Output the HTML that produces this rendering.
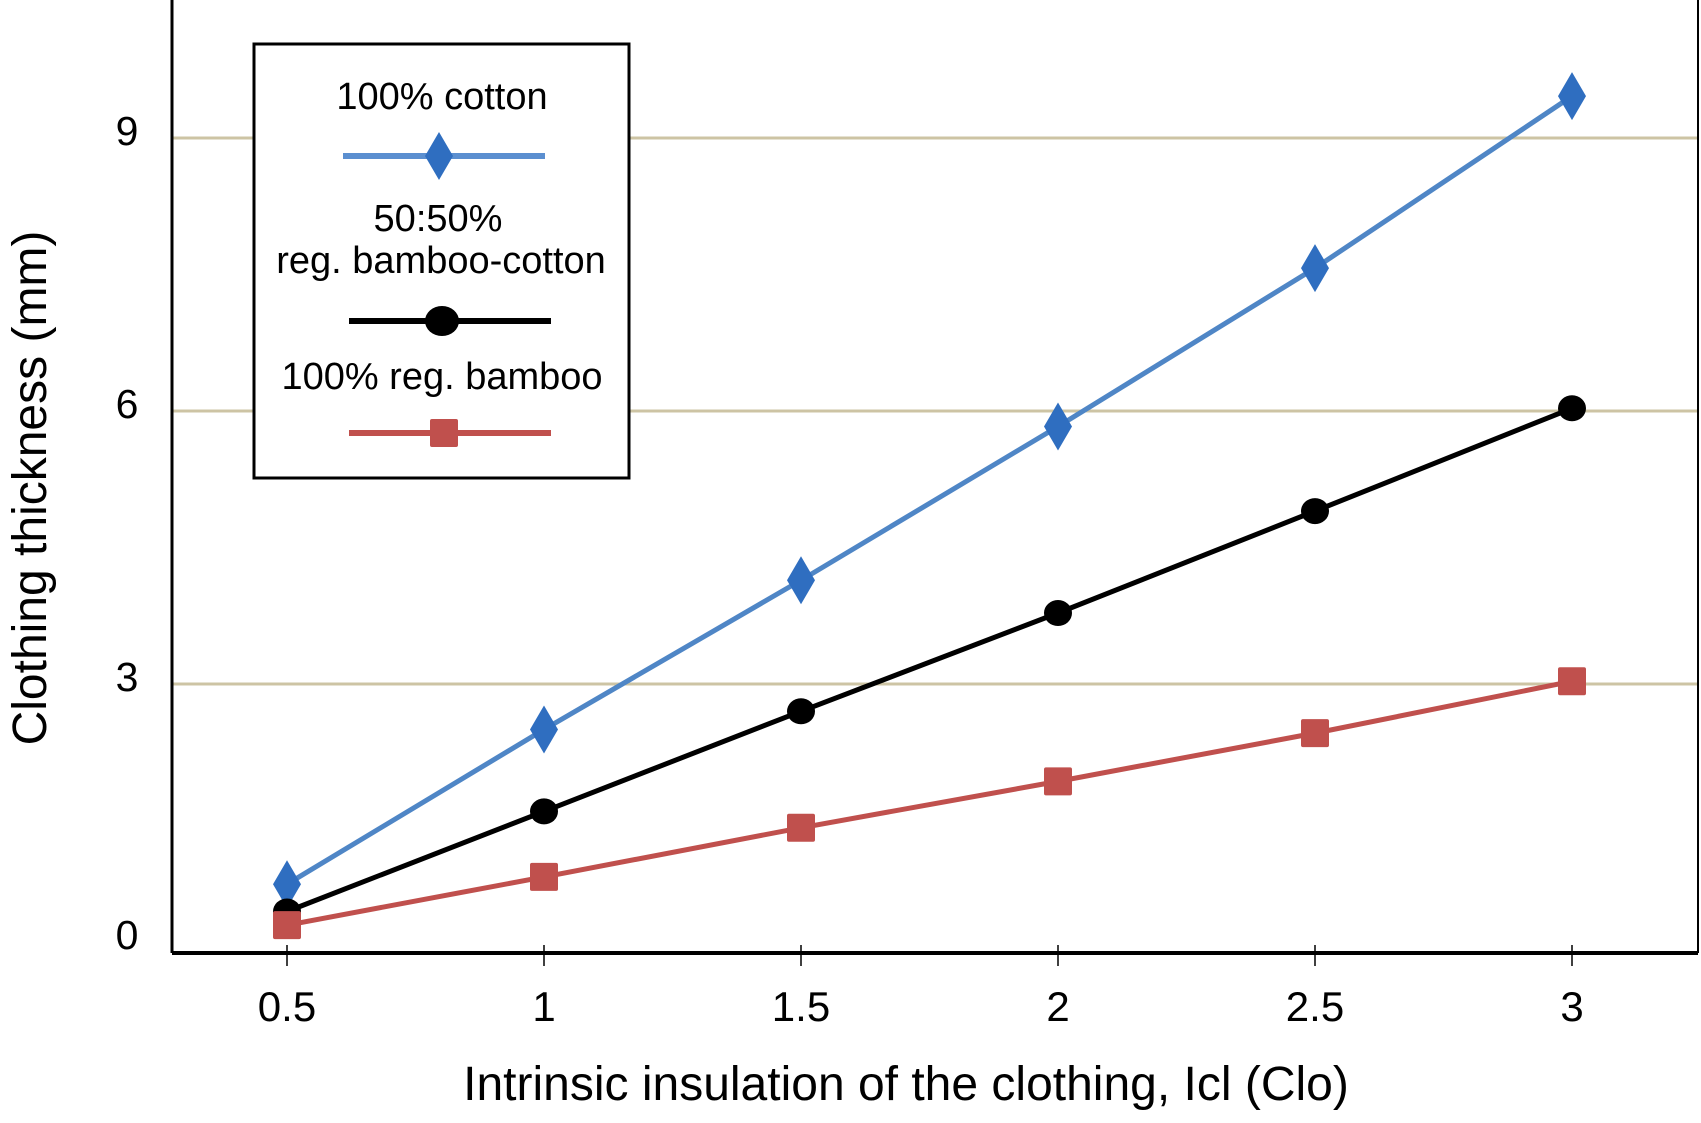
<!DOCTYPE html>
<html><head><meta charset="utf-8"><style>
html,body{margin:0;padding:0;background:#fff;}
svg{display:block;font-family:"Liberation Sans",sans-serif;}
</style></head><body>
<svg id="chart" width="1701" height="1123" viewBox="0 0 1701 1123">
<g id="grid"></g>
<g id="series"></g>
<g id="axes">
<line x1="172" y1="0" x2="172" y2="953" stroke="#000" stroke-width="3"/>
<line x1="172" y1="953" x2="1698" y2="953" stroke="#000" stroke-width="4"/>
<line x1="1698" y1="0" x2="1698" y2="953" stroke="#000" stroke-width="2"/>
</g>
<g id="xticks"></g>
<g id="yticks"></g>
<text x="906" y="1100" font-size="48" text-anchor="middle" fill="#000">Intrinsic insulation of the clothing, Icl (Clo)</text>
<text transform="translate(46,488) rotate(-90)" font-size="48" text-anchor="middle" fill="#000">Clothing thickness (mm)</text>
<g>
<rect x="254" y="44" width="375" height="434" fill="#fff" stroke="#000" stroke-width="3"/>
<g>
<text x="442" y="109" font-size="38" text-anchor="middle">100% cotton</text>
<line x1="343" y1="156" x2="545" y2="156" stroke="#5b8fd0" stroke-width="6"/>
<path d="M439 132 L453 156 L439 180 L425 156 Z" fill="#2f6ec0"/>
</g>
<g>
<text x="438" y="231" font-size="38" text-anchor="middle">50:50%</text>
<text x="441" y="273" font-size="38" text-anchor="middle">reg. bamboo-cotton</text>
<line x1="349" y1="321" x2="551" y2="321" stroke="#000" stroke-width="6"/>
<ellipse cx="442" cy="321" rx="17" ry="15" fill="#000"/>
</g>
<g>
<text x="442" y="389" font-size="38" text-anchor="middle">100% reg. bamboo</text>
<line x1="349" y1="433" x2="551" y2="433" stroke="#c0504d" stroke-width="6"/>
<rect x="430" y="419" width="28" height="28" rx="2" fill="#c0504d"/>
</g>
</g>
</svg>
<script>
const categories = [0.5, 1, 1.5, 2, 2.5, 3];
const cottonValues = [0.8, 2.5, 4.14, 5.83, 7.57, 9.46];
const blendValues = [0.5, 1.6, 2.7, 3.78, 4.9, 6.03];
const bambooValues = [0.35, 0.88, 1.42, 1.93, 2.46, 3.03];
const yTicks = [0, 3, 6, 9];
const xTickLabels = ["0.5", "1", "1.5", "2", "2.5", "3"];

const NS = "http://www.w3.org/2000/svg";
function xPos(v){ return 287 + (v - 0.5) * 514; }
function yPos(v){ return 957 - 91 * v; }
function mk(tag, attrs, parent){
  const e = document.createElementNS(NS, tag);
  for (const k in attrs) e.setAttribute(k, attrs[k]);
  parent.appendChild(e);
  return e;
}
const grid = document.getElementById('grid');
const yt = document.getElementById('yticks');
yTicks.forEach(v => {
  if (v > 0) {
    const g = mk('line', {x1:172, x2:1698, y1:yPos(v), y2:yPos(v), stroke:'#cdc4a4', 'stroke-width':3}, grid);
    
    
  }
  const t = mk('text', {x:127, y: (v === 0 ? 934 : yPos(v) - 8) + 15, 'font-size':41, 'text-anchor':'middle'}, yt);
  t.textContent = String(v);
  
  
});
const xt = document.getElementById('xticks');
categories.forEach((c, i) => {
  const l = mk('line', {x1:xPos(c), x2:xPos(c), y1:945, y2:966, stroke:'#000', 'stroke-width':1.5}, xt);
  
  
  const t = mk('text', {x:xPos(c), y:1021, 'font-size':42, 'text-anchor':'middle'}, xt);
  t.textContent = xTickLabels[i];
  
  
});
const sg = document.getElementById('series');
function drawSeries(vals, color, markColor, kind, name){
  const pts = categories.map((c, i) => xPos(c) + ',' + yPos(vals[i])).join(' ');
  const pl = mk('polyline', {points:pts, fill:'none', stroke:color, 'stroke-width':5, 'stroke-linejoin':'round'}, sg);
  
  
  categories.forEach((c, i) => {
    const x = xPos(c), y = yPos(vals[i]);
    let m;
    if (kind === 'diamond') m = mk('path', {d:`M${x} ${y-24} L${x+14} ${y} L${x} ${y+24} L${x-14} ${y} Z`, fill:markColor}, sg);
    else if (kind === 'circle') m = mk('ellipse', {cx:x, cy:y, rx:14, ry:13, fill:markColor}, sg);
    else m = mk('rect', {x:x-14, y:y-14, width:28, height:28, rx:2, fill:markColor}, sg);
    
    
  });
}
drawSeries(cottonValues, '#4f86c6', '#2f6ec0', 'diamond', 'cotton');
drawSeries(blendValues, '#000', '#000', 'circle', 'blend');
drawSeries(bambooValues, '#c0504d', '#c0504d', 'square', 'bamboo');
</script>
</body></html>
